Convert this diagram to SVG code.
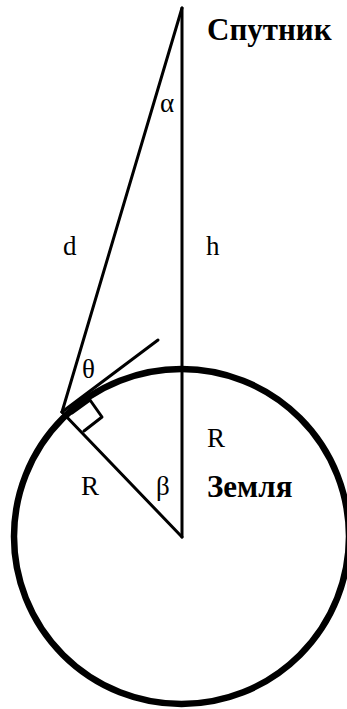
<svg xmlns="http://www.w3.org/2000/svg" width="347" height="709" viewBox="0 0 347 709">
<style>
.ln{stroke:#000;stroke-width:3;fill:none;stroke-linecap:round;stroke-linejoin:round}
.t{font-family:"Liberation Serif","Times New Roman",serif;font-size:27px;fill:#000}
.b{font-family:"Liberation Serif","Times New Roman",serif;font-size:31px;font-weight:bold;fill:#000}
</style>
<rect width="347" height="709" fill="#fff"/>
<g id="earth">
<circle cx="181.5" cy="536.5" r="167.5" fill="none" stroke="#000" stroke-width="6.5"/>
</g>
<g id="connectors">
<line class="ln" x1="182" y1="8" x2="182" y2="537"/>
<line class="ln" x1="182" y1="8" x2="62" y2="412"/>
<line class="ln" x1="62" y1="412" x2="182" y2="537"/>
<line class="ln" x1="62" y1="412" x2="158" y2="340"/>
<polyline class="ln" points="72,413 90,400 102,417 84,431"/>
</g>
<g id="labels">
<text class="b" x="207" y="40">Спутник</text>
<text class="t" x="160" y="112">α</text>
<text class="t" x="63" y="255">d</text>
<text class="t" x="206" y="255">h</text>
<text class="t" x="82" y="378">θ</text>
<text class="t" x="207" y="447">R</text>
<text class="t" x="81" y="495">R</text>
<text class="t" x="156" y="495">β</text>
<text class="b" x="207" y="497">Земля</text>
</g>
</svg>
